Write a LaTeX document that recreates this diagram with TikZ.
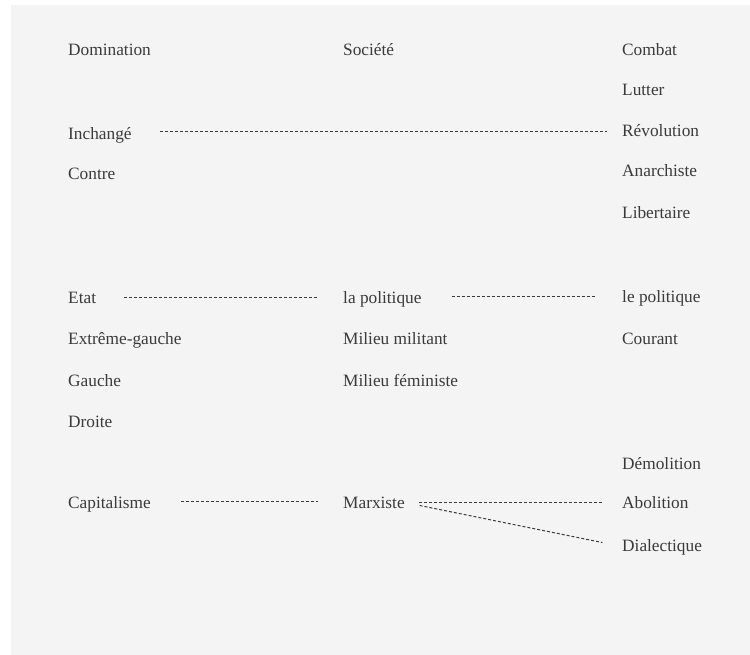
\documentclass[tikz,border=0pt]{standalone}
\usepackage{fontspec}
\setmainfont{Liberation Serif}
\definecolor{bgray}{HTML}{F4F4F4}
\definecolor{tgray}{HTML}{3A3A3A}
\begin{document}
\begin{tikzpicture}[x=1pt,y=-1pt,
  lbl/.style={anchor=west,inner sep=0pt,text height=12pt,text depth=0pt,text=tgray,font=\fontsize{17.3}{19}\selectfont},
  dline/.style={draw=tgray,line width=1pt,dash pattern=on 3pt off 2pt}]
\useasboundingbox (0,0) rectangle (750,655);
\fill[bgray] (11,5) rectangle (750,655);
% column 1
\node[lbl] (dom) at (68,50) {Domination};
\node[lbl] (inch) at (68,134) {Inchangé};
\node[lbl] (contre) at (68,174) {Contre};
\node[lbl] (etat) at (68,297) {Etat};
\node[lbl] (extg) at (68,338) {Extrême-gauche};
\node[lbl] (gauche) at (68,380) {Gauche};
\node[lbl] (droite) at (68,421) {Droite};
\node[lbl] (capi) at (68,502) {Capitalisme};
% column 2
\node[lbl] (soc) at (343,50) {Société};
\node[lbl] (lapol) at (343,298) {la politique};
\node[lbl] (milm) at (343,338) {Milieu militant};
\node[lbl] (milf) at (343,380) {Milieu féministe};
\node[lbl] (marx) at (343,502) {Marxiste};
% column 3
\node[lbl] (comb) at (622,50) {Combat};
\node[lbl] (lutt) at (622,90) {Lutter};
\node[lbl] (revo) at (622,131) {Révolution};
\node[lbl] (anar) at (622,171) {Anarchiste};
\node[lbl] (libe) at (622,213) {Libertaire};
\node[lbl] (lepol) at (622,296) {le politique};
\node[lbl] (cour) at (622,338) {Courant};
\node[lbl] (demo) at (622,463) {Démolition};
\node[lbl] (abol) at (622,502) {Abolition};
\node[lbl] (dial) at (622,545) {Dialectique};
% connectors
\draw[dline] ([xshift=28pt,yshift=2pt]inch.east) -- ([xshift=-15pt,yshift=2pt]inch.east -| revo.west);
\draw[dline] ([xshift=28pt]etat.east) -- ([xshift=-25pt]etat.east -| lapol.west);
\draw[dline] ([xshift=30pt,yshift=2pt]lapol.east) -- ([xshift=-26pt,yshift=2pt]lapol.east -| lepol.west);
\draw[dline] ([xshift=30pt,yshift=1pt]capi.east) -- ([xshift=-25pt,yshift=1pt]capi.east -| marx.west);
\draw[dline] ([xshift=14pt]marx.east) -- ([xshift=-19pt]marx.east -| abol.west);
\draw[dline,shorten <=15pt,shorten >=20pt] ([yshift=-0.5pt]marx.east) -- ([yshift=-1.5pt]dial.west);
\end{tikzpicture}
\end{document}
